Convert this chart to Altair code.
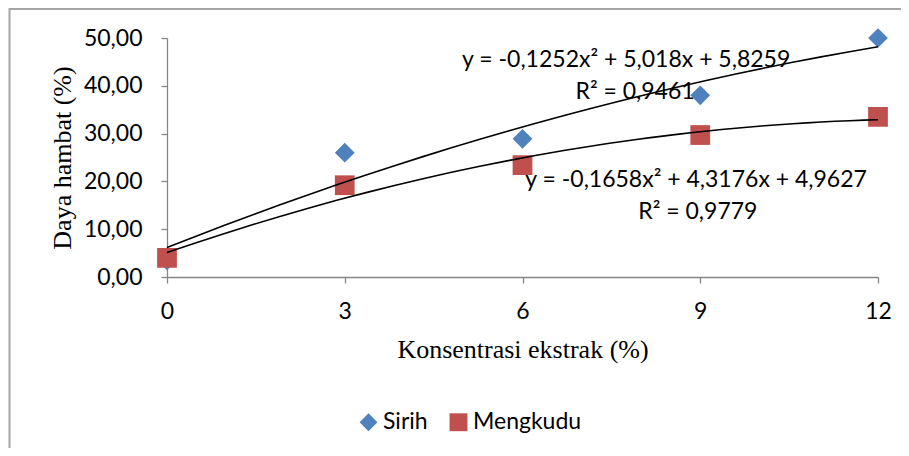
import altair as alt
import pandas as pd

# ---- data ----
concentrations = [0, 3, 6, 9, 12]
sirih = [3.5, 26.0, 28.9, 38.0, 50.0]
mengkudu = [4.0, 19.2, 23.4, 29.7, 33.5]

series_names = ["Sirih", "Mengkudu"]
series_colors = ["#4F81BD", "#C0504D"]
series_shapes = ["diamond", "square"]

x_ticks = [0, 3, 6, 9, 12]
y_ticks = [0, 10, 20, 30, 40, 50]

eq_labels = ["y = -0,1252x² + 5,018x + 5,8259", "R² = 0,9461",
             "y = -0,1658x² + 4,3176x + 4,9627", "R² = 0,9779"]
eq_x = [7.75, 7.9, 8.93, 8.96]
eq_y = [43.9, 37.2, 18.8, 12.1]

rows = []
for name, vals in zip(series_names, [sirih, mengkudu]):
    for c, v in zip(concentrations, vals):
        rows.append({"x": c, "y": v, "series": name})
df = pd.DataFrame(rows)
ann = pd.DataFrame({"x": eq_x, "y": eq_y, "label": eq_labels})

LABEL_FONT = "Lato"
TITLE_FONT = "Liberation Serif"

x_enc = alt.X("x:Q",
              scale=alt.Scale(domain=[0, 12], nice=False, zero=False),
              axis=alt.Axis(values=x_ticks, format="d", title="Konsentrasi ekstrak (%)",
                            labelFlush=False, labelPadding=17, tickSize=6,
                            titleX=355.5, titleY=80, titleBaseline="alphabetic",
                            titleAlign="center"))
y_enc = alt.Y("y:Q",
              scale=alt.Scale(domain=[0, 50], nice=False, zero=False),
              axis=alt.Axis(values=y_ticks, title="Daya hambat (%)",
                            labelExpr="replace(format(datum.value, '.2f'), '.', ',')",
                            labelPadding=19, tickSize=6, labelBaseline="middle",
                            titleX=-105, titleY=119.5, titleAngle=270,
                            titleAlign="center", titleBaseline="middle"))

frame = alt.Chart(alt.Data(values=[{}])).mark_rect(
    fillOpacity=0, stroke="#A6A6A6", strokeWidth=2
).encode(
    x=alt.value(-157.5), x2=alt.value(1200),
    y=alt.value(-29), y2=alt.value(1200)
)

points = alt.Chart(df).mark_point(filled=True, size=390, opacity=1).encode(
    x=x_enc, y=y_enc,
    color=alt.Color("series:N", scale=alt.Scale(domain=series_names, range=series_colors),
                    legend=alt.Legend(title=None)),
    shape=alt.Shape("series:N", scale=alt.Scale(domain=series_names, range=series_shapes),
                    legend=alt.Legend(title=None)),
    order=alt.Order("series:N", sort="descending"),
)

texts = alt.Chart(ann).mark_text(
    font=LABEL_FONT, fontSize=23, align="center", baseline="alphabetic", color="black"
).encode(x=x_enc, y=y_enc, text="label:N")

trend = alt.Chart(df).transform_regression(
    "x", "y", method="poly", order=2, groupby=["series"], extent=[0, 12]
).mark_line(color="black", strokeWidth=1.6).encode(
    x=x_enc, y=y_enc, detail="series:N"
)

chart = alt.layer(frame, points, texts, trend).properties(
    width=711, height=239,
    autosize=alt.AutoSizeParams(type="none"),
    padding={"left": 159, "top": 30, "right": 23, "bottom": 171},
).configure_view(stroke=None).configure_axis(
    grid=False,
    domainColor="#868686", tickColor="#868686", domainWidth=1.3, tickWidth=1.3,
    labelFont=LABEL_FONT, labelFontSize=23, labelColor="black",
    titleFont=TITLE_FONT, titleFontSize=26, titleFontWeight="normal", titleColor="black",
).configure_legend(
    orient="none", legendX=190, legendY=372.5, direction="horizontal",
    labelFont=LABEL_FONT, labelFontSize=23, labelColor="black",
    symbolSize=320, labelOffset=3, columnPadding=19, padding=0,
    symbolStrokeWidth=0, symbolOpacity=1,
)

chart.save("out.html", embed_options={"renderer": "svg", "actions": False})
